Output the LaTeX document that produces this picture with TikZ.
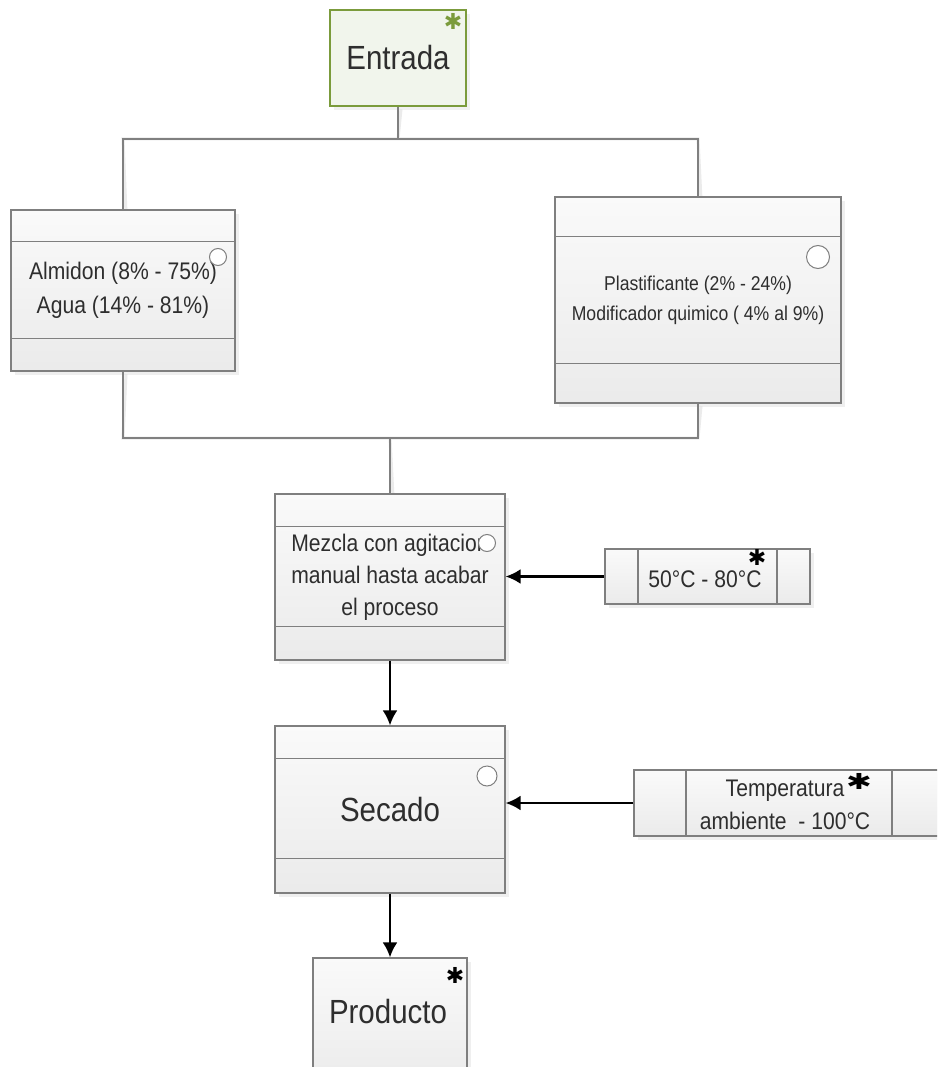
\documentclass[tikz,border=0pt]{standalone}
\usepackage{fontspec}
\setmainfont[FakeStretch=0.88]{Liberation Sans}
\newfontfamily\symfont{DejaVu Sans}
\usetikzlibrary{arrows.meta,shadows,calc}
\definecolor{boxline}{HTML}{7F7F7F}
\definecolor{txt}{HTML}{2E2E2E}
\definecolor{entline}{HTML}{7B9B3C}
\definecolor{entfill}{HTML}{F1F5EC}
\definecolor{conn}{HTML}{808080}
\tikzset{
  compbox/.style={draw=boxline, line width=1.3pt, top color=black!2, bottom color=black!8,
    drop shadow={shadow xshift=4pt, shadow yshift=-4pt, fill=black!12},
    inner sep=0pt, align=center, text=txt},
  endbox/.style={compbox},
  startbox/.style={draw=entline, line width=1.8pt, fill=entfill,
    drop shadow={shadow xshift=4pt, shadow yshift=-4pt, fill=black!10},
    inner sep=0pt, text=txt},
  divider/.style={draw=boxline, line width=1.3pt},
  marker/.style={draw=boxline, line width=1pt, fill=white},
  tree/.style={draw=conn, line width=1.4pt},
  treeshadow/.style={draw=black!8, line width=3pt},
  arr/.style={draw=black, line width=2.2pt, -{Latex[length=15pt,width=15pt]}},
  star/.style={inner sep=0pt, font=\symfont\fontsize{22}{22}\selectfont\bfseries}
}
\newcommand{\bigtxt}{\fontsize{33.5}{36}\selectfont}
\newcommand{\midtxt}{\fontsize{24}{34}\selectfont}
\newcommand{\smalltxt}{\fontsize{20}{30}\selectfont}
\begin{document}
\begin{tikzpicture}[x=1pt,y=-1pt]
\clip (0,0) rectangle (937,1067);
\fill[white] (0,0) rectangle (937,1067);

% junction points of the input tree
\coordinate (jt) at (398,139);
\coordinate (jl) at (123,139);
\coordinate (jr) at (698,139);
\coordinate (bl) at (123,438);
\coordinate (br) at (698,438);
\coordinate (bm) at (390,438);

% soft shadow under the tree lines
\begin{scope}[shift={(3,3)}]
  \draw[treeshadow] (398,106) -- (jt);
  \draw[treeshadow] (123,210) -- (jl) -- (jr) -- (698,197);
  \draw[treeshadow] (123,371) -- (bl) -- (br) -- (698,403);
  \draw[treeshadow] (bm) -- (390,494);
\end{scope}

% start node
\node[startbox, minimum width=136pt, minimum height=96pt, font=\bigtxt] (ent) at (398,58) {Entrada};
\node[star, text=entline] (entstar) at (453,21) {✱};

% ingredient boxes
\node[compbox, minimum width=224pt, minimum height=161pt, font=\midtxt] (alm) at (123,290.5)
  {Almidon (8\% - 75\%)\\Agua (14\% - 81\%)};
\draw[divider] ($(alm.north west)+(0,32)$) -- ($(alm.north east)+(0,32)$);
\draw[divider] ($(alm.south west)+(0,-33)$) -- ($(alm.south east)+(0,-33)$);
\node[marker, circle, minimum size=17pt, inner sep=0pt] (almc) at (218,257) {};

\node[compbox, minimum width=286pt, minimum height=206pt, font=\smalltxt] (pla) at (698,300)
  {Plastificante (2\% - 24\%)\\Modificador quimico ( 4\% al 9\%)};
\draw[divider] ($(pla.north west)+(0,40)$) -- ($(pla.north east)+(0,40)$);
\draw[divider] ($(pla.south west)+(0,-40)$) -- ($(pla.south east)+(0,-40)$);
\node[marker, circle, minimum size=23pt, inner sep=0pt] (plac) at (818,257) {};

% tree lines
\draw[tree] (ent.south) -- (jt);
\draw[tree] (alm.north) -- (jl) -- (jr) -- (pla.north);
\draw[tree] (alm.south) -- (bl) -- (br) -- (pla.south);

% mixing step
\node[compbox, minimum width=230pt, minimum height=166pt, font=\fontsize{24}{32}\selectfont] (mez) at (390,577)
  {Mezcla con agitacion\\manual hasta acabar\\el proceso};
\draw[divider] ($(mez.north west)+(0,33)$) -- ($(mez.north east)+(0,33)$);
\draw[divider] ($(mez.south west)+(0,-34)$) -- ($(mez.south east)+(0,-34)$);
\node[marker, circle, minimum size=17pt, inner sep=0pt] (mezc) at (487,543) {};
\draw[tree] (bm) -- (mez.north);

% drying step
\node[compbox, minimum width=230pt, minimum height=167pt, font=\bigtxt] (sec) at (390,809.5) {Secado};
\draw[divider] ($(sec.north west)+(0,33)$) -- ($(sec.north east)+(0,33)$);
\draw[divider] ($(sec.south west)+(0,-35)$) -- ($(sec.south east)+(0,-35)$);
\node[marker, circle, minimum size=20pt, inner sep=0pt] (secc) at (487,776) {};

% temperature conditions
\node[compbox, minimum width=205pt, minimum height=55pt, font=\midtxt] (t1) at (707.5,576.5) {};
\node[text=txt, font=\midtxt, inner sep=0pt] (t1txt) at (705,579) {50°C - 80°C};
\draw[divider] (638,549) -- (638,604);
\draw[divider] (777,549) -- (777,604);
\node[star] (t1star) at (757,557) {✱};

\node[compbox, minimum width=310pt, minimum height=66pt] (t2) at (789,803) {};
\node[text=txt, font=\fontsize{24}{33}\selectfont, align=center, inner sep=0pt] (t2txt) at (785,805)
  {Temperatura\\ambiente\ \ - 100°C};
\draw[divider] (686,770) -- (686,836);
\draw[divider] (892,770) -- (892,836);
\node[star, xscale=1.4] (t2star) at (859,781) {✱};

% product
\node[endbox, minimum width=154pt, minimum height=132pt] (prod) at (390,1024) {};
\node[text=txt, font=\bigtxt, inner sep=0pt] (prodtxt) at (388,1012) {Producto};
\node[star] (prodstar) at (455,975) {✱};

% process arrows
\draw[arr] (t1.west) -- (t1.west -| mez.east);
\draw[arr] (t2.west) -- (t2.west -| sec.east);
\draw[arr] (mez.south) -- (sec.north);
\draw[arr] (sec.south) -- (prod.north);
\end{tikzpicture}
\end{document}
